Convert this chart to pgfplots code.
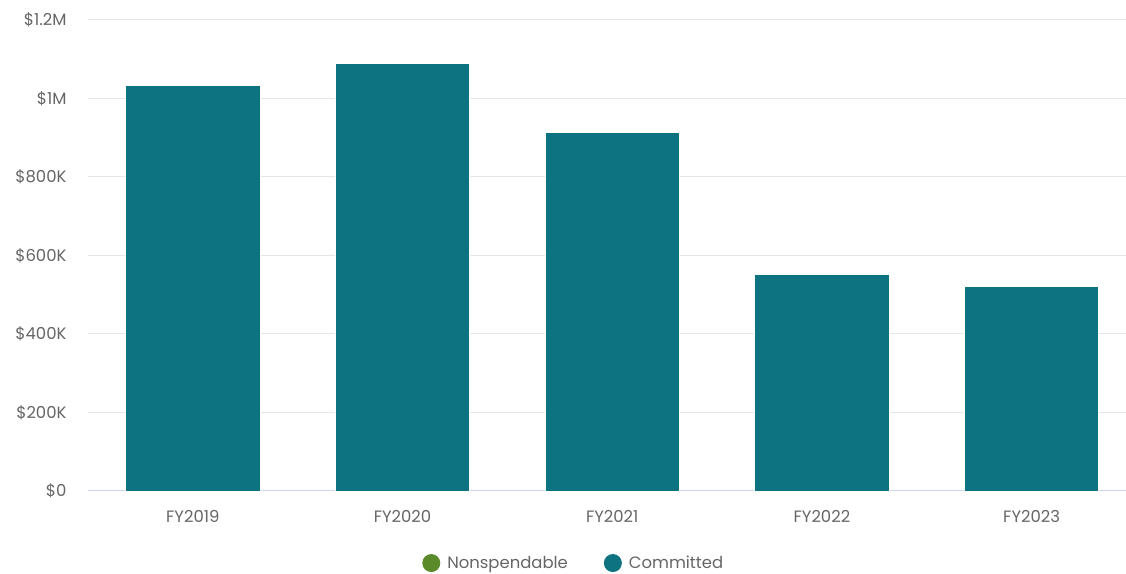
\documentclass[border=0pt]{standalone}
\usepackage{pgfplots}
\pgfplotsset{compat=1.18}
\usepackage{fontspec}
\setmainfont{Poppins}
\definecolor{teal1}{HTML}{0E7380}
\definecolor{green1}{HTML}{5B8A2B}
\definecolor{txt}{HTML}{666666}
\definecolor{gridc}{HTML}{E6E6E6}
\definecolor{basec}{HTML}{CCD6EB}
\begin{document}
\begin{tikzpicture}[x=1bp,y=1bp]
\path[use as bounding box] (-88,-83) rectangle (1038,491);
\begin{axis}[
  at={(0,0)}, anchor=south west,
  scale only axis, width=1038bp, height=471bp,
  xmin=-0.5, xmax=4.45, ymin=0, ymax=1200000,
  xtick={0,1,2,3,4},
  xticklabels={FY2019,FY2020,FY2021,FY2022,FY2023},
  ytick={0,200000,400000,600000,800000,1000000,1200000},
  yticklabels={\$0,\$200K,\$400K,\$600K,\$800K,\$1M,\$1.2M},
  scaled y ticks=false,
  axis x line=bottom, axis y line=left,
  x axis line style={color=basec, line width=1bp, -},
  y axis line style={draw=none},
  major tick length=0,
  ymajorgrids, grid style={color=gridc, line width=1bp},
  tick label style={color=txt, font=\fontsize{16.5}{18}\selectfont},
  xticklabel style={yshift=-16bp},
  yticklabel style={xshift=-18bp},
  ybar, bar width=0.64,
  legend style={draw=none, at={(0.468,-0.153)}, anchor=center, legend columns=2,
    font=\fontsize{16.5}{18}\selectfont\color{txt},
    /tikz/every even column/.append style={column sep=34bp}},
  legend image code/.code={\fill[#1, draw=none] (0bp,0bp) circle (9bp); \path[draw=none, fill=none] (-9bp,0bp) -- (14bp,0bp);},
]
\addlegendimage{fill=green1, draw=none}
\addlegendentry{Nonspendable}
\addplot[fill=teal1, draw=white, line width=0.8bp] coordinates {
  (0,1034000) (1,1089000) (2,914000) (3,551000) (4,521000)};
\addlegendentry{Committed}
\end{axis}
\end{tikzpicture}
\end{document}
